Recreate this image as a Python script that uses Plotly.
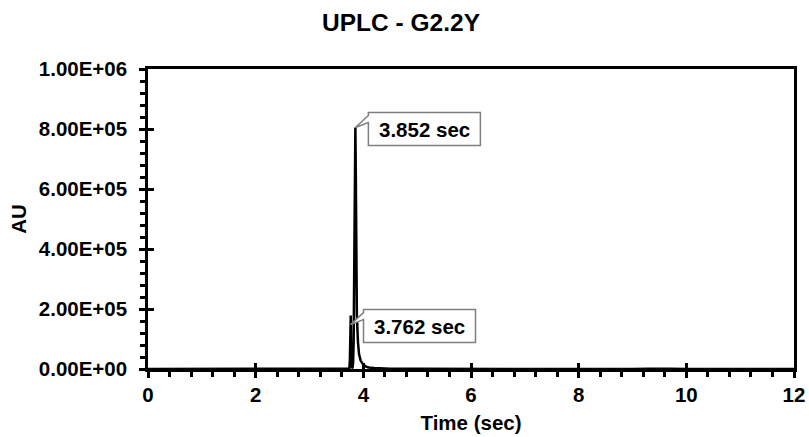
import plotly.graph_objects as go

# Chromatogram samples: retention time (sec) and detector response (AU)
time_sec = [0.0, 0.5, 1.0, 1.5, 2.0, 2.5, 3.0, 3.5, 3.70, 3.740, 3.750, 3.756,
            3.762, 3.766, 3.770, 3.776, 3.782, 3.790, 3.800, 3.810, 3.820,
            3.830, 3.840, 3.846, 3.852, 3.858, 3.864, 3.870, 3.880, 3.900,
            3.920, 3.950, 4.000, 4.050, 4.100, 4.200, 4.300, 4.500, 5.000,
            5.300, 5.350, 5.400, 6.0, 7.0, 8.0, 9.0, 9.3, 9.5, 9.7, 10.0,
            11.0, 12.0]
au = [0, 0, 0, 0, 0, 0, 0, 500, 1000, 2000, 30000, 110000,
      148000, 178000, 120000, 40000, 8000, 3000, 5000, 20000, 90000,
      300000, 620000, 760000, 805000, 700000, 480000, 320000, 180000, 90000,
      50000, 28000, 14000, 8000, 5000, 3000, 2000, 1200, 500,
      300, 1000, 300, 0, 0, 0, 200, 800, 1500, 800, 200,
      0, 0]

# Labelled peaks (retention time, label)
peak_times = [3.852, 3.762]
peak_labels = ["3.852 sec", "3.762 sec"]

x_ticks = [0, 2, 4, 6, 8, 10, 12]
x_ticktext = ["0", "2", "4", "6", "8", "10", "12"]
y_ticks = [0, 200000, 400000, 600000, 800000, 1000000]
y_ticktext = ["0.00E+00", "2.00E+05", "4.00E+05", "6.00E+05", "8.00E+05", "1.00E+06"]

FONT = "Liberation Sans, Arial, sans-serif"
AX_W = 2.5

fig = go.Figure()
fig.add_trace(go.Scatter(x=time_sec, y=au, mode="lines",
                         line=dict(color="black", width=2.5),
                         showlegend=False, hoverinfo="x+y"))
# empty trace that carries the overlay axes used for the inward half of major ticks
fig.add_trace(go.Scatter(x=[None], y=[None], xaxis="x2", yaxis="y2",
                         showlegend=False, hoverinfo="skip"))

# callouts: box + wedge drawn in pixels around each labelled point
callout_path = "M0,0 L13,12 L13,15 L125,15 L125,-18 L13,-18 L13,5 Z"
for t, lab in zip(peak_times, peak_labels):
    v = au[time_sec.index(t)]
    fig.add_shape(type="path", xref="x", yref="y",
                  xsizemode="pixel", ysizemode="pixel",
                  xanchor=t, yanchor=v, path=callout_path,
                  fillcolor="white", line=dict(color="#7f7f7f", width=1.5),
                  layer="above")
    fig.add_annotation(x=t, y=v, xref="x", yref="y", text=lab,
                       showarrow=False, xshift=69, yshift=-1.5,
                       font=dict(family=FONT, size=20.5, color="black",
                                 weight="bold"))

axis_common = dict(showline=True, linewidth=AX_W, linecolor="black",
                   mirror=True, showgrid=False, zeroline=False,
                   automargin=False,
                   ticks="outside", ticklen=6, tickwidth=AX_W, tickcolor="black",
                   tickfont=dict(family=FONT, size=20.5, color="black",
                                 weight="bold"))

fig.update_layout(
    width=809, height=437,
    margin=dict(l=148, r=15, t=69, b=68, autoexpand=False),
    paper_bgcolor="white", plot_bgcolor="white",
    title=dict(text="UPLC - G2.2Y", x=0.4957, xanchor="center",
               y=1 - 22.5 / 437, yanchor="middle",
               font=dict(family=FONT, size=24.5, color="black", weight="bold")),
    xaxis=dict(range=[0, 12], tickvals=x_ticks, ticktext=x_ticktext,
               minor=dict(dtick=0.4, ticks="outside", ticklen=5,
                          tickwidth=AX_W, tickcolor="black"),
               ticklabelstandoff=0,
               title=dict(text="Time (sec)", standoff=11,
                          font=dict(family=FONT, size=20.5, color="black",
                                    weight="bold")),
               **axis_common),
    yaxis=dict(range=[0, 1000000], tickvals=y_ticks, ticktext=y_ticktext,
               minor=dict(dtick=40000, ticks="outside", ticklen=5,
                          tickwidth=AX_W, tickcolor="black"),
               ticklabelstandoff=8,
               title=dict(text="AU", standoff=7,
                          font=dict(family=FONT, size=20.5, color="black",
                                    weight="bold")),
               **axis_common),
    xaxis2=dict(overlaying="x", anchor="y", range=[0, 12], tickvals=x_ticks,
                ticks="inside", ticklen=6, tickwidth=AX_W, tickcolor="black",
                showticklabels=False, showline=False, showgrid=False,
                zeroline=False, automargin=False),
    yaxis2=dict(overlaying="y", anchor="x", side="left", range=[0, 1000000],
                tickvals=y_ticks, ticks="inside", ticklen=6, tickwidth=AX_W,
                tickcolor="black", showticklabels=False, showline=False,
                showgrid=False, zeroline=False, automargin=False),
)

fig.write_html("out.html")
